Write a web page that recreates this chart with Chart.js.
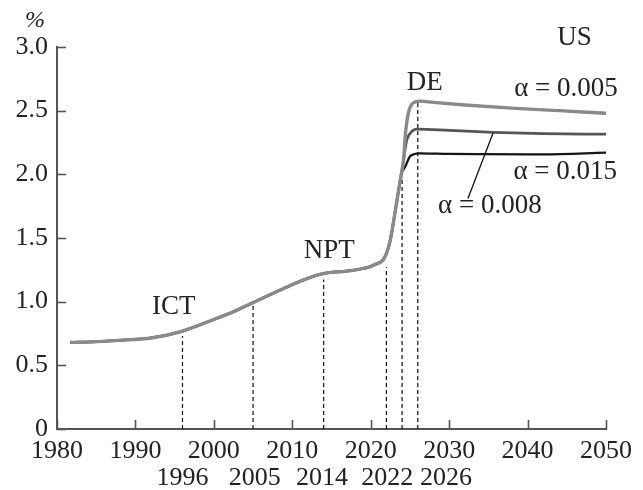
<!DOCTYPE html>
<html>
<head>
<meta charset="utf-8">
<script src="https://cdn.jsdelivr.net/npm/chart.js@4/dist/chart.umd.min.js"></script>
<style>
  html, body { margin: 0; padding: 0; background: #fff; }
  #wrap { width: 643px; height: 490px; }
</style>
</head>
<body>
<div id="wrap"><canvas id="chart" width="643" height="490"></canvas></div>
<script>
// shared part of the curve (all three alphas coincide here)
const commonYears = [1981.7, 1985, 1988.9, 1992, 1995.8, 2000.4, 2002.1, 2004.9, 2008.4, 2011, 2013.9, 2016.9, 2018.6, 2020.5, 2021.8, 2022.5, 2023.1, 2023.7, 2023.9];
const commonVals  = [0.68, 0.686, 0.70, 0.715, 0.765, 0.87, 0.91, 0.99, 1.09, 1.16, 1.22, 1.24, 1.255, 1.29, 1.35, 1.485, 1.70, 1.93, 2.0];

// branches after the DE jump
const yearsA005 = [2024.2, 2024.4, 2024.8, 2025.4, 2026.3, 2028, 2032, 2038, 2044, 2050];
const valsA005  = [2.12, 2.30, 2.48, 2.56, 2.575, 2.565, 2.545, 2.52, 2.50, 2.48];
const yearsA008 = [2024.2, 2024.4, 2024.6, 2025.0, 2025.9, 2030, 2035.6, 2042, 2050];
const valsA008  = [2.12, 2.20, 2.27, 2.32, 2.355, 2.345, 2.33, 2.32, 2.315];
const yearsA015 = [2024.4, 2025.0, 2025.6, 2026.1, 2030, 2034, 2042, 2050];
const valsA015  = [2.06, 2.14, 2.16, 2.165, 2.16, 2.158, 2.157, 2.17];

// dashed markers: year and height of each dashed line
const markYears = [1996, 2005, 2014, 2022, 2024, 2026];
const markTops  = [0.73, 0.975, 1.175, 1.27, 1.98, 2.57];

// x tick labels (first row) and the second row of marker years
const xTicks = [1980, 1990, 2000, 2010, 2020, 2030, 2040, 2050];
const yTicks = [0, 0.5, 1.0, 1.5, 2.0, 2.5, 3.0];
const secondRowLabels = ['1996', '2005', '2014', '2022', '2026'];
const secondRowX      = [1996, 2005.2, 2013.8, 2022.1, 2029.6];

// text labels placed in data coordinates
const noteTexts = ['ICT', 'NPT', 'DE', 'US', 'α = 0.005', 'α = 0.015', 'α = 0.008'];
const noteX     = [1994.9, 2014.7, 2026.9, 2046.0, 2044.9, 2044.8, 2035.2];
const noteY     = [0.96, 1.40, 2.72, 3.07, 2.67, 2.02, 1.75];

// leader from the 0.008 label to its line
const leaderX = [2032.4, 2035.6];
const leaderY = [1.81, 2.325];

const FONT = "'Liberation Serif', 'Times New Roman', serif";

function pts(xs, ys) { return xs.map((x, i) => ({ x: x, y: ys[i] })); }

const datasets = [
  { label: 'α = 0.005', data: pts(commonYears.concat(yearsA005), commonVals.concat(valsA005)),
    borderColor: '#8a8a8a', borderWidth: 3.4, order: 1 },
  { label: 'α = 0.008', data: pts(commonYears.concat(yearsA008), commonVals.concat(valsA008)),
    borderColor: '#555555', borderWidth: 2.7, order: 2 },
  { label: 'α = 0.015', data: pts(commonYears.concat(yearsA015), commonVals.concat(valsA015)),
    borderColor: '#151515', borderWidth: 2.3, order: 3 },
  { label: 'leader', data: pts(leaderX, leaderY), borderColor: '#111', borderWidth: 1.3,
    tension: 0, cubicInterpolationMode: 'default', order: 0 }
];
markYears.forEach((yr, i) => {
  datasets.push({ label: 'mark' + yr, data: [{ x: yr, y: 0 }, { x: yr, y: markTops[i] }],
    borderColor: '#111', borderWidth: 1.2, borderDash: [4, 3], tension: 0,
    cubicInterpolationMode: 'default', order: 5 });
});
datasets.forEach(d => { d.pointRadius = 0; d.fill = false; if (!d.cubicInterpolationMode) d.cubicInterpolationMode = 'monotone'; });

// inward tick marks, the second year row and the text notes
const extrasPlugin = {
  id: 'extras',
  afterDraw(chart) {
    const ctx = chart.ctx;
    const xs = chart.scales.x, ys = chart.scales.y;
    ctx.save();
    ctx.strokeStyle = '#555';
    ctx.lineWidth = 1.6;
    xTicks.forEach(v => {
      const px = Math.round(xs.getPixelForValue(v)) + 0.5;
      ctx.beginPath(); ctx.moveTo(px, ys.bottom); ctx.lineTo(px, ys.bottom - 9); ctx.stroke();
    });
    yTicks.forEach(v => {
      const py = Math.round(ys.getPixelForValue(v)) + 0.5;
      ctx.beginPath(); ctx.moveTo(xs.left, py); ctx.lineTo(xs.left + 9, py); ctx.stroke();
    });
    ctx.fillStyle = '#222';
    ctx.font = '26px ' + FONT;
    ctx.textAlign = 'center';
    ctx.textBaseline = 'middle';
    secondRowLabels.forEach((t, i) => {
      ctx.fillText(t, xs.getPixelForValue(secondRowX[i]), ys.bottom + 49);
    });
    ctx.font = '27px ' + FONT;
    noteTexts.forEach((t, i) => {
      ctx.fillText(t, xs.getPixelForValue(noteX[i]), ys.getPixelForValue(noteY[i]));
    });
    ctx.font = 'italic 24px ' + FONT;
    ctx.fillText('%', xs.left - 22, ys.top - 26);
    ctx.restore();
  }
};

new Chart(document.getElementById('chart'), {
  type: 'line',
  data: { datasets: datasets },
  plugins: [extrasPlugin],
  options: {
    responsive: false,
    animation: false,
    layout: { padding: { top: 47, right: 37, left: 0, bottom: 0 } },
    plugins: { legend: { display: false }, tooltip: { enabled: false } },
    scales: {
      x: {
        type: 'linear', min: 1980, max: 2050,
        afterBuildTicks: s => { s.ticks = xTicks.map(v => ({ value: v })); },
        afterFit: s => { s.height = 61; },
        grid: { drawOnChartArea: false, drawTicks: false },
        border: { color: '#555', width: 2 },
        ticks: { color: '#222', font: { family: FONT, size: 26 }, padding: 7, maxRotation: 0,
          callback: v => String(v) }
      },
      y: {
        min: 0, max: 3,
        afterBuildTicks: s => { s.ticks = yTicks.map(v => ({ value: v })); },
        afterFit: s => { s.width = 57; },
        grid: { drawOnChartArea: false, drawTicks: false },
        border: { color: '#555', width: 2 },
        ticks: { color: '#222', font: { family: FONT, size: 26 }, padding: 9,
          callback: v => v === 0 ? '0' : v.toFixed(1) }
      }
    }
  }
});
</script>
</body>
</html>
